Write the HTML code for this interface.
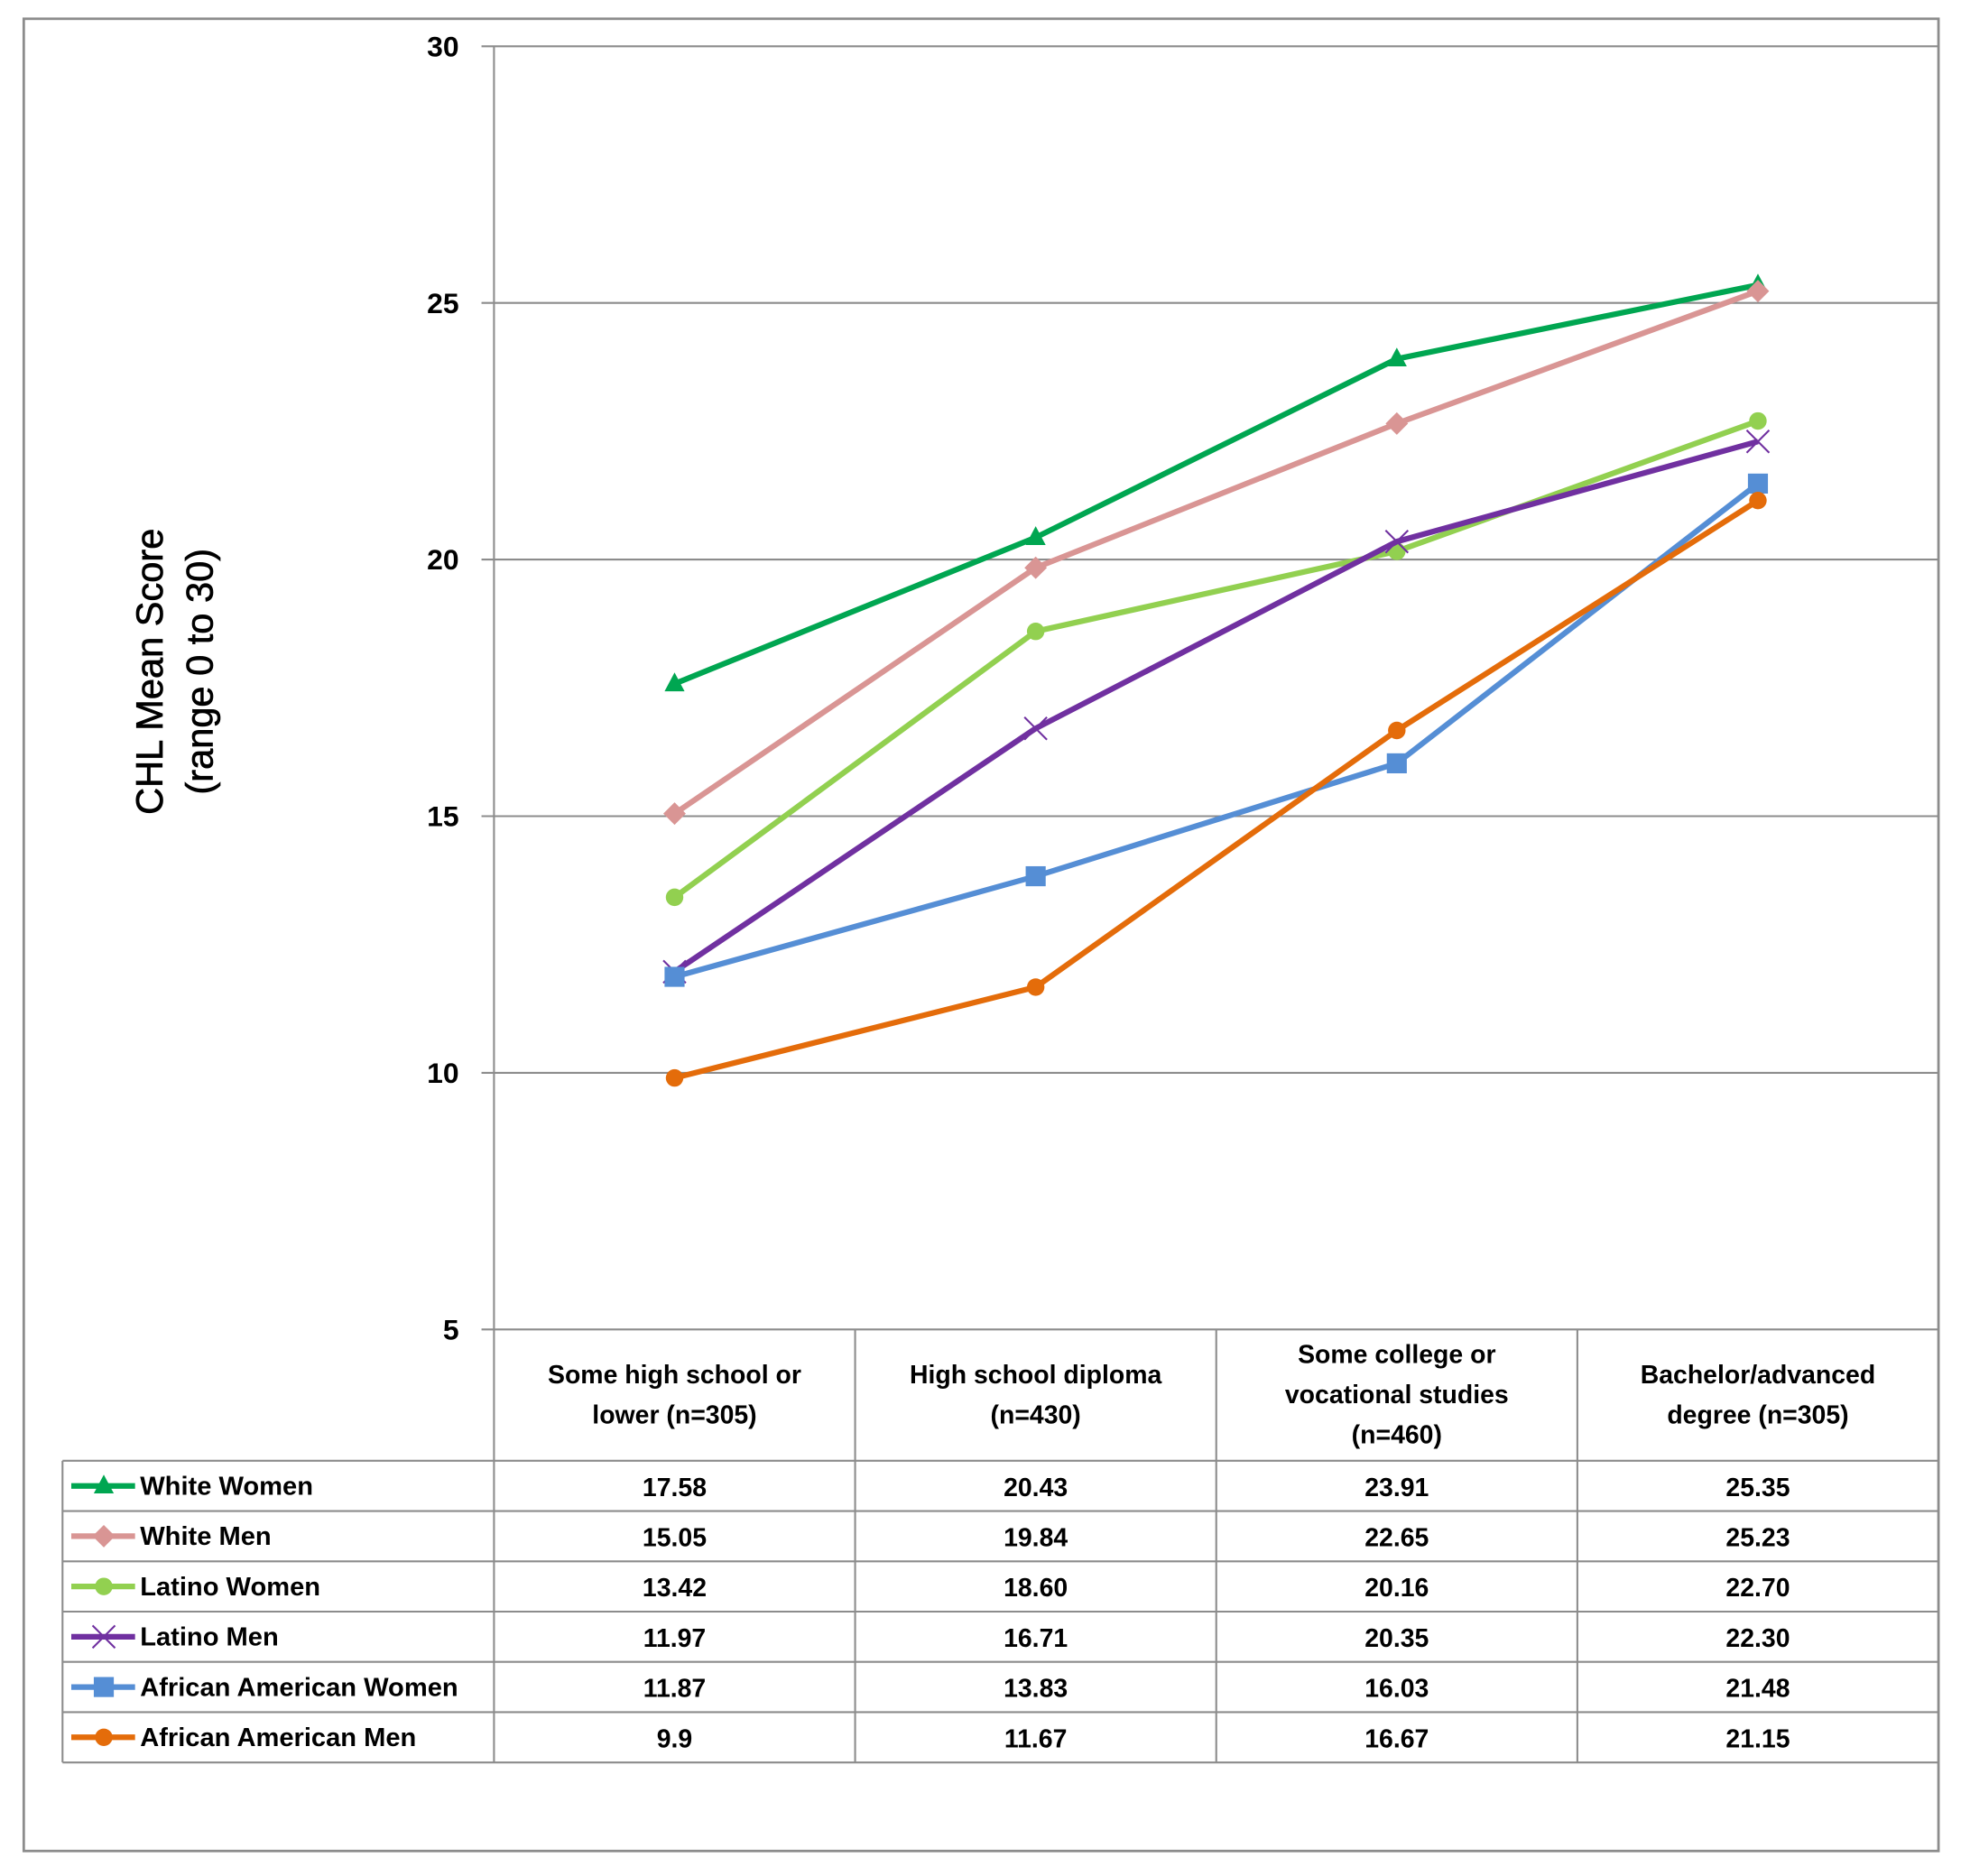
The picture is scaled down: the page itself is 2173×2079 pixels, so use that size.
<!DOCTYPE html>
<html><head><meta charset="utf-8"><style>
html,body{margin:0;padding:0;background:#fff}
svg{display:block}
text{font-family:"Liberation Sans",sans-serif}
</style></head><body>
<svg id="chart" width="2173" height="2079" viewBox="0 0 1568 1500" preserveAspectRatio="none" xmlns="http://www.w3.org/2000/svg">
<rect x="19" y="15" width="1531" height="1465" fill="#fff" stroke="#8c8c8c" stroke-width="2"/>
<g id="grid"></g>
<g id="table"></g>
<g id="series"></g>
<text transform="translate(130,537) rotate(-90)" text-anchor="middle" font-size="30" fill="#000" stroke="#000" stroke-width="0.5">CHL Mean Score</text>
<text transform="translate(170,537) rotate(-90)" text-anchor="middle" font-size="30" fill="#000" stroke="#000" stroke-width="0.5">(range 0 to 30)</text>
</svg>
<script>
const categories = [["Some high school or","lower (n=305)"],["High school diploma","(n=430)"],["Some college or","vocational studies","(n=460)"],["Bachelor/advanced","degree (n=305)"]];
const seriesNames = ["White Women","White Men","Latino Women","Latino Men","African American Women","African American Men"];
const whiteWomen = [17.58,20.43,23.91,25.35];
const whiteMen = [15.05,19.84,22.65,25.23];
const latinoWomen = [13.42,18.60,20.16,22.70];
const latinoMen = [11.97,16.71,20.35,22.30];
const aaWomen = [11.87,13.83,16.03,21.48];
const aaMen = [9.9,11.67,16.67,21.15];
const printed = [["17.58","20.43","23.91","25.35"],["15.05","19.84","22.65","25.23"],["13.42","18.60","20.16","22.70"],["11.97","16.71","20.35","22.30"],["11.87","13.83","16.03","21.48"],["9.9","11.67","16.67","21.15"]];
const yTicks = [5,10,15,20,25,30];

const allSeries=[whiteWomen,whiteMen,latinoWomen,latinoMen,aaWomen,aaMen];
const colors=["#00a651","#d99594","#92d050","#7030a0","#558ed5","#e46c0a"];
const markers=["triangle","diamond","circle","x","square","circle"];
const NS="http://www.w3.org/2000/svg";
const X0=395,X1=1550,Y5=1063,Y30=37;
const colW=(X1-X0)/categories.length;
function xs(i){return X0+colW*(i+0.5);}
function ys(v){return Y5-(v-5)*(Y5-Y30)/25;}
function mk(tag,attrs,parent){const e=document.createElementNS(NS,tag);for(const k in attrs)e.setAttribute(k,attrs[k]);parent.appendChild(e);return e;}
const grid=document.getElementById('grid'),table=document.getElementById('table'),ser=document.getElementById('series');
yTicks.forEach(t=>{
  const l=mk('line',{x1:385,x2:X1,y1:ys(t),y2:ys(t),stroke:'#8c8c8c','stroke-width':1.5},grid);
  
  
  const tx=mk('text',{x:367,y:ys(t)+8,'text-anchor':'end','font-size':23,'font-weight':'bold'},grid);
  tx.textContent=t;
  
  
});
mk('line',{x1:X0,x2:X0,y1:Y30,y2:1409,stroke:'#8c8c8c','stroke-width':1.5},grid);
const rowTop=1168,rowH=40.2;
for(let c=1;c<=categories.length;c++){mk('line',{x1:X0+colW*c,x2:X0+colW*c,y1:Y5,y2:1409,stroke:'#8c8c8c','stroke-width':1.5},table);}
for(let r=0;r<=seriesNames.length;r++){const y=rowTop+r*rowH;mk('line',{x1:50,x2:X1,y1:y,y2:y,stroke:'#8c8c8c','stroke-width':1.5},table);}
mk('line',{x1:50,x2:50,y1:rowTop,y2:rowTop+rowH*6,stroke:'#8c8c8c','stroke-width':1.5},table);
categories.forEach((lines,i)=>{
  const t=mk('text',{x:xs(i),'text-anchor':'middle','font-size':20.5,'font-weight':'bold'},table);
  
  
  const start=1115-(lines.length-1)*16+7;
  lines.forEach((s,j)=>{const ts=mk('tspan',{x:xs(i),y:start+j*32},t);ts.textContent=s;});
});
function marker(type,x,y,color,g){
  if(type==='triangle')mk('polygon',{points:`${x},${y-9} ${x-8},${y+6} ${x+8},${y+6}`,fill:color},g);
  else if(type==='diamond')mk('polygon',{points:`${x},${y-9} ${x+9},${y} ${x},${y+9} ${x-9},${y}`,fill:color},g);
  else if(type==='circle')mk('circle',{cx:x,cy:y,r:7,fill:color},g);
  else if(type==='square')mk('rect',{x:x-8,y:y-8,width:16,height:16,fill:color},g);
  else if(type==='x'){mk('path',{d:`M${x-9},${y-9}L${x+9},${y+9}M${x-9},${y+9}L${x+9},${y-9}`,stroke:color,'stroke-width':1.5},g);}
}
allSeries.forEach((data,s)=>{
  const g=mk('g',{},ser);
  
  
  mk('polyline',{points:data.map((v,i)=>xs(i)+','+ys(v)).join(' '),fill:'none',stroke:colors[s],'stroke-width':4.5,'stroke-linejoin':'round'},g);
  data.forEach((v,i)=>marker(markers[s],xs(i),ys(v),colors[s],g));
  const ry=rowTop+s*rowH+rowH/2;
  const lg=mk('g',{},table);
  
  
  mk('line',{x1:57,x2:108,y1:ry,y2:ry,stroke:colors[s],'stroke-width':4.5},lg);
  marker(markers[s],83,ry,colors[s],lg);
  const lt=mk('text',{x:112,y:ry+7,'font-size':21,'font-weight':'bold'},lg);lt.textContent=seriesNames[s];
  printed[s].forEach((p,i)=>{
    const vt=mk('text',{x:xs(i),y:ry+8,'text-anchor':'middle','font-size':20.5,'font-weight':'bold'},table);
    vt.textContent=p;
    
    
  });
});
</script>
</body></html>
